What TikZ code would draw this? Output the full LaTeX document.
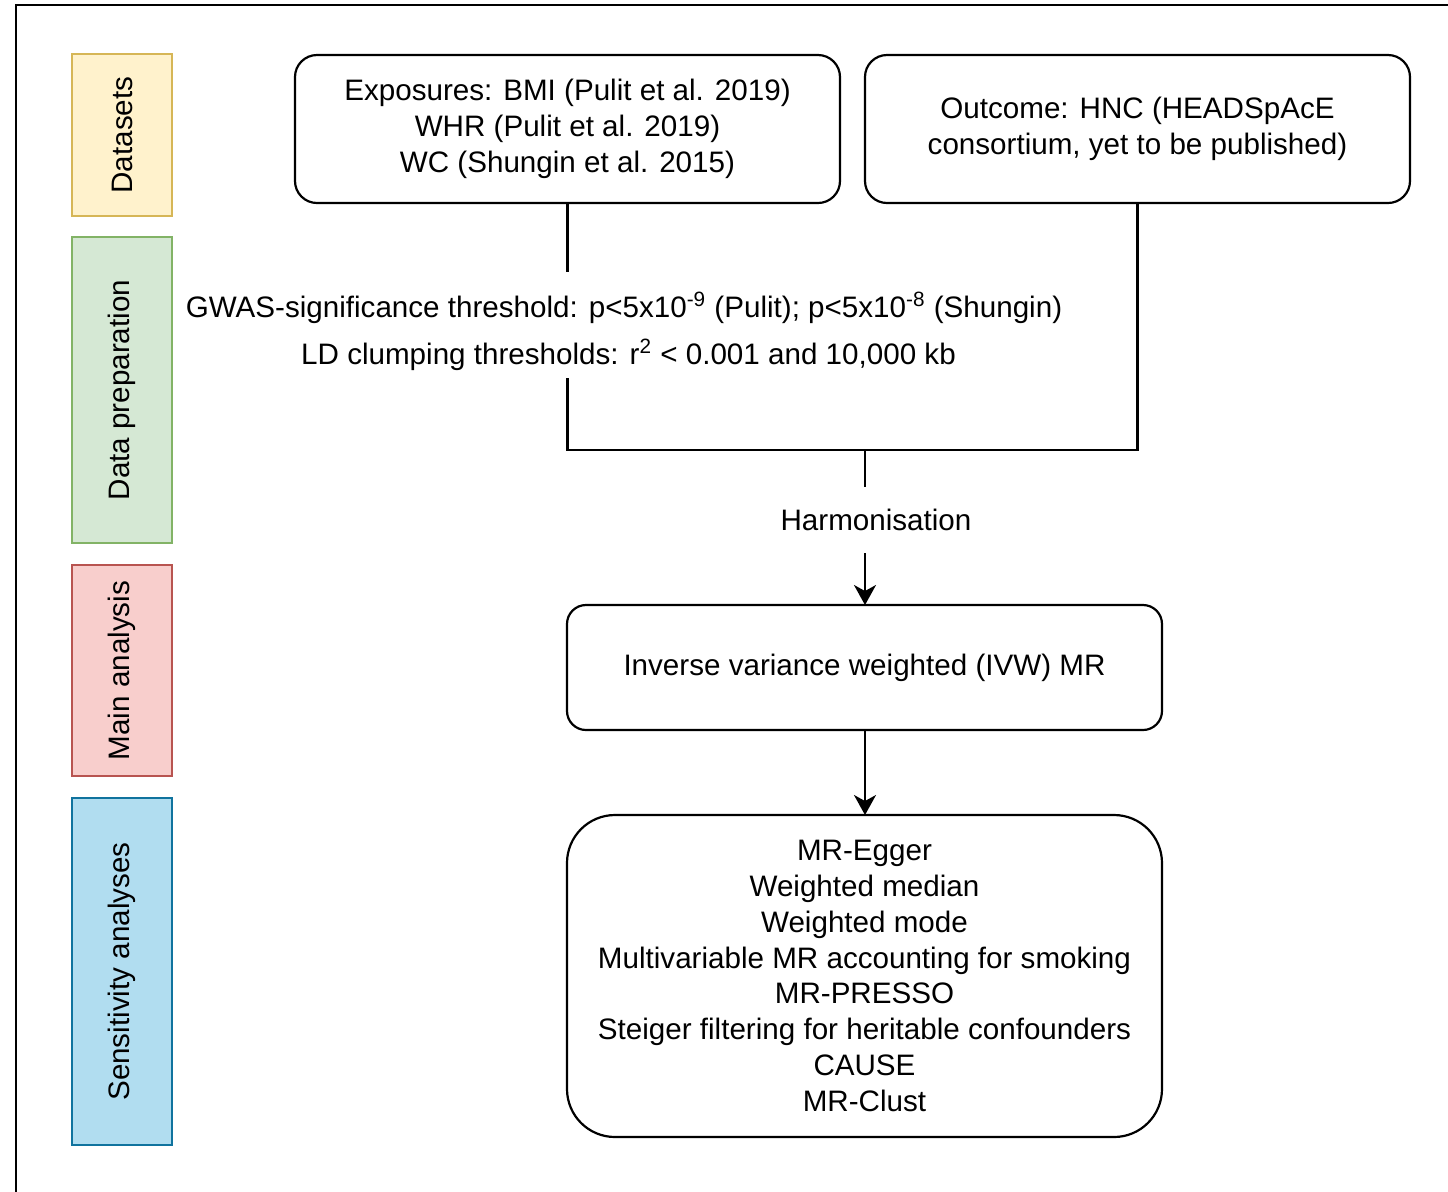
\documentclass[tikz,border=0pt]{standalone}
\usepackage{fontspec}
\setmainfont{Liberation Sans}
\usetikzlibrary{arrows.meta}
\definecolor{dsfill}{HTML}{FFF2CC}\definecolor{dsdraw}{HTML}{D6B656}
\definecolor{dpfill}{HTML}{D5E8D4}\definecolor{dpdraw}{HTML}{82B366}
\definecolor{mafill}{HTML}{F8CECC}\definecolor{madraw}{HTML}{B85450}
\definecolor{safill}{HTML}{B1DDF0}\definecolor{sadraw}{HTML}{10739E}
\begin{document}
\begin{tikzpicture}[x=0.5pt,y=-0.5pt,
  every node/.style={font=\fontsize{14.8}{17.9}\selectfont, outer sep=0pt, inner sep=0pt},
  lane/.style={draw, line width=1.1pt, rotate=90, minimum height=50pt},
  flowbox/.style={draw, line width=1.1pt, align=center},
  conn/.style={line width=1.1pt},
  arr/.style={line width=1.1pt, -{Stealth[length=10pt,width=11pt,inset=3pt]}}]
\useasboundingbox (0,0) rectangle (1448,1191);
% outer frame (cropped)
\coordinate (fa) at (16,1200);
\coordinate (fb) at (16,5);
\coordinate (fc) at (1460,5);
\draw[line width=1.4pt] (fa) -- (fb) -- (fc);
% lanes
\node[lane, fill=dsfill, draw=dsdraw, minimum width=81pt] (ds) at (122,135) {Datasets};
\node[lane, fill=dpfill, draw=dpdraw, minimum width=153pt] (dp) at (122,390) {Data preparation};
\node[lane, fill=mafill, draw=madraw, minimum width=105.5pt] (ma) at (122,670.5) {Main analysis};
\node[lane, fill=safill, draw=sadraw, minimum width=173.5pt] (sa) at (122,971.5) {Sensitivity analyses};
% boxes
\node[flowbox, rounded corners=11pt, minimum width=272.5pt, minimum height=74pt] (expo) at (567.5,129)
  {Exposures: BMI (Pulit et al. 2019)\\WHR (Pulit et al. 2019)\\WC (Shungin et al. 2015)};
\node[flowbox, rounded corners=11pt, minimum width=272.5pt, minimum height=74pt] (outc) at (1137.5,129)
  {Outcome: HNC (HEADSpAcE\\consortium, yet to be published)};
\node[flowbox, rounded corners=9.5pt, minimum width=297.5pt, minimum height=62.5pt] (ivw) at (864.5,667.5)
  {Inverse variance weighted (IVW) MR};
\node[flowbox, rounded corners=24pt, minimum width=297.5pt, minimum height=161pt] (sens) at (864.5,976)
  {MR-Egger\\Weighted median\\Weighted mode\\Multivariable MR accounting for smoking\\MR-PRESSO\\Steiger filtering for heritable confounders\\CAUSE\\MR-Clust};
% threshold text
\node (gwas1) at (624,308) {GWAS-significance threshold: p<5x10\textsuperscript{-9} (Pulit); p<5x10\textsuperscript{-8} (Shungin)};
\node (gwas2) at (628.5,355) {LD clumping thresholds: r\textsuperscript{2} < 0.001 and 10,000 kb};
% connectors
\coordinate (g1) at (567.5,272);
\coordinate (g2) at (567.5,378);
\coordinate (j1) at (567.5,450);
\coordinate (j2) at (1137.5,450);
\coordinate (jm) at (865,450);
\draw[conn] (expo.south) -- (g1);
\draw[conn] (g2) -- (j1) -- (j2) -- (outc.south);
\draw[arr] (jm) -- (ivw.north -| jm);
\node[fill=white, inner xsep=2pt, inner ysep=11pt] (harm) at (876,520) {Harmonisation};
\draw[arr] (ivw.south -| jm) -- (sens.north -| jm);
\end{tikzpicture}
\end{document}
